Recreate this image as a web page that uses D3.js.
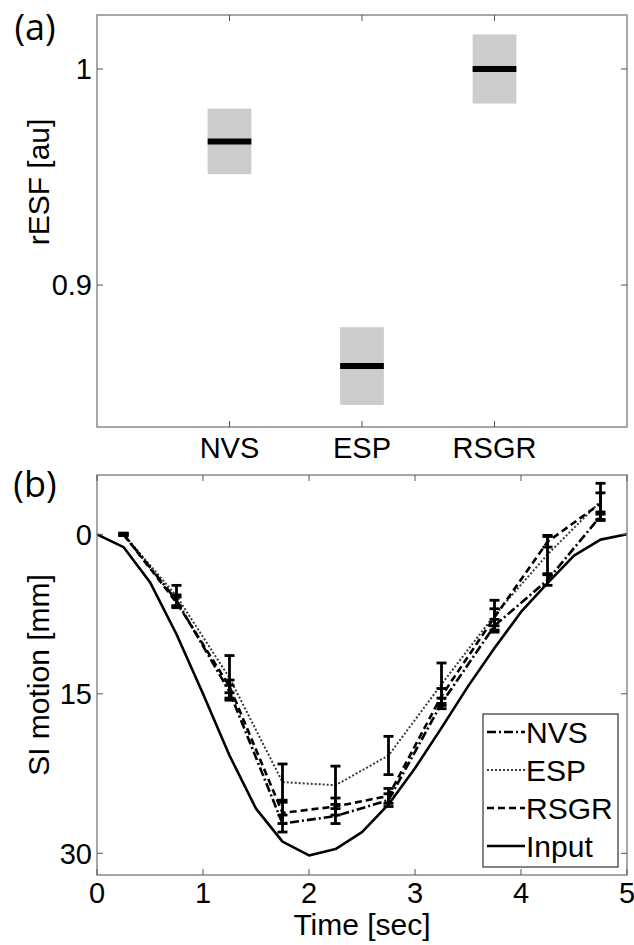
<!DOCTYPE html>
<html>
<head>
<meta charset="utf-8">
<script src="https://cdn.jsdelivr.net/npm/d3@7"></script>
<style>
  html, body { margin: 0; padding: 0; background: #fff; }
  svg { display: block; }
  text { font-family: "Liberation Sans", Arimo, Arial, sans-serif; fill: #000; }
  .panel-tag { font-family: "Open Sans", "Noto Sans", sans-serif; }
</style>
</head>
<body>
<svg id="fig" width="634" height="945"></svg>
<script>
// ---- Panel (a): relative edge spread function per method ----
const methods = ["NVS", "ESP", "RSGR"];
const resfMean = [0.9665, 0.8625, 1.0];
const resfSpread = [0.0152, 0.0180, 0.0160];
const resfTicks = [0.9, 1];
const resfTickLabels = ["0.9", "1"];

// ---- Panel (b): superior-inferior motion over one breathing cycle ----
const inputTime = [0, 0.25, 0.5, 0.75, 1.0, 1.25, 1.5, 1.75, 2.0, 2.25, 2.5,
                   2.75, 3.0, 3.25, 3.5, 3.75, 4.0, 4.25, 4.5, 4.75, 5.0];
const inputMotion = [0, 1.2, 4.5, 9.4, 15.0, 20.8, 25.8, 28.9, 30.2, 29.6, 28.0,
                     25.4, 22.0, 18.2, 14.3, 10.7, 7.3, 4.6, 2.0, 0.5, 0];

const sampleTime = [0.25, 0.75, 1.25, 1.75, 2.25, 2.75, 3.25, 3.75, 4.25, 4.75];
const nvsMotion  = [0, 6.2, 14.8, 27.2, 26.5, 25.0, 15.9, 8.6, 4.3, -1.7];
const nvsErr     = [0.1, 0.5, 0.6, 0.8, 0.7, 0.6, 0.5, 0.6, 0.5, 0.4];
const espMotion  = [0, 5.8, 13.5, 23.3, 23.6, 20.8, 14.1, 7.6, 1.9, -3.1];
const espErr     = [0.1, 1.0, 2.1, 1.7, 1.8, 1.8, 2.0, 1.4, 1.8, 1.7];
const rsgrMotion = [0, 6.4, 14.3, 26.2, 25.6, 24.6, 15.2, 7.8, 0.7, -2.9];
const rsgrErr    = [0.1, 0.5, 0.6, 1.0, 0.8, 0.7, 0.7, 0.8, 0.5, 1.0];

const timeTicks = [0, 1, 2, 3, 4, 5];
const motionTicks = [0, 15, 30];
const legendLabels = ["NVS", "ESP", "RSGR", "Input"];

const svg = d3.select("#fig");
const frameColor = "#8a8a8a";
const tickLen = 6;
const tickFont = 29;
const labelFont = 30;

// Draws a boxed frame with inward ticks on all four sides.
function frame(g, x, y, xTicks, yTicks) {
  const [x0, x1] = x.range();
  const [y0, y1] = [d3.max(y.range()), d3.min(y.range())];
  g.append("rect")
    .attr("x", x0).attr("y", y1)
    .attr("width", x1 - x0).attr("height", y0 - y1)
    .attr("fill", "none").attr("stroke", frameColor).attr("stroke-width", 1.5);
  const tg = g.append("g").attr("stroke", "#555").attr("stroke-width", 1);
  xTicks.forEach(t => {
    tg.append("line").attr("x1", x(t)).attr("x2", x(t)).attr("y1", y0).attr("y2", y0 - tickLen);
    tg.append("line").attr("x1", x(t)).attr("x2", x(t)).attr("y1", y1).attr("y2", y1 + tickLen);
  });
  yTicks.forEach(t => {
    tg.append("line").attr("x1", x0).attr("x2", x0 + tickLen).attr("y1", y(t)).attr("y2", y(t));
    tg.append("line").attr("x1", x1).attr("x2", x1 - tickLen).attr("y1", y(t)).attr("y2", y(t));
  });
}

// ================= Panel (a) =================
{
  const g = svg.append("g");
  const x = d3.scalePoint().domain(methods).range([97, 627]).padding(1);
  const y = d3.scaleLinear().domain([0.8343, 1.025]).range([427, 15]);
  const boxW = x.step() * 0.33;

  methods.forEach((m, i) => {
    g.append("rect")
      .attr("x", x(m) - boxW / 2)
      .attr("y", y(resfMean[i] + resfSpread[i]))
      .attr("width", boxW)
      .attr("height", y(resfMean[i] - resfSpread[i]) - y(resfMean[i] + resfSpread[i]))
      .attr("fill", "#cccccc");
    g.append("line")
      .attr("x1", x(m) - boxW / 2).attr("x2", x(m) + boxW / 2)
      .attr("y1", y(resfMean[i])).attr("y2", y(resfMean[i]))
      .attr("stroke", "#000").attr("stroke-width", 6);
  });

  const xl = d3.scaleLinear().domain([0, 4]).range([97, 627]);
  frame(g, xl, y, [1, 2, 3], resfTicks);

  resfTicks.forEach((t, i) => {
    g.append("text").attr("x", 92).attr("y", y(t)).attr("dy", "0.36em")
      .attr("text-anchor", "end").attr("font-size", tickFont).text(resfTickLabels[i]);
  });
  methods.forEach(m => {
    g.append("text").attr("x", x(m)).attr("y", 448).attr("dy", "0.36em")
      .attr("text-anchor", "middle").attr("font-size", tickFont).text(m);
  });
  g.append("text")
    .attr("transform", "translate(38,182) rotate(-90)")
    .attr("dy", "0.36em").attr("text-anchor", "middle").attr("font-size", labelFont)
    .text("rESF [au]");
  g.append("text").attr("class", "panel-tag")
    .attr("x", 35).attr("y", 40)
    .attr("text-anchor", "middle").attr("font-size", 36).text("(a)");
}

// ================= Panel (b) =================
{
  const g = svg.append("g");
  const x = d3.scaleLinear().domain([0, 5]).range([97, 627]);
  const y = d3.scaleLinear().domain([-5.58, 32.04]).range([475, 875]);

  const styles = {
    NVS:   { dash: "9,3,2,3", width: 2.6, color: "#000" },
    ESP:   { dash: "2,2",     width: 2.0, color: "#3a3a3a" },
    RSGR:  { dash: "7,4",     width: 2.6, color: "#000" },
    Input: { dash: null,      width: 2.6, color: "#000" }
  };

  const line = d3.line().x(d => x(d[0])).y(d => y(d[1]));

  const inputPts = inputTime.map((t, i) => [t, inputMotion[i]]);
  g.append("path").datum(inputPts).attr("d", line)
    .attr("fill", "none").attr("stroke", styles.Input.color)
    .attr("stroke-width", styles.Input.width).attr("stroke-linejoin", "round");

  const series = [
    { name: "ESP",  v: espMotion,  e: espErr },
    { name: "RSGR", v: rsgrMotion, e: rsgrErr },
    { name: "NVS",  v: nvsMotion,  e: nvsErr }
  ];

  series.forEach(s => {
    const st = styles[s.name];
    const pts = sampleTime.map((t, i) => [t, s.v[i]]);
    g.append("path").datum(pts).attr("d", line)
      .attr("fill", "none").attr("stroke", st.color)
      .attr("stroke-width", st.width).attr("stroke-dasharray", st.dash);
  });

  // error bars
  const capHalf = 5;
  series.forEach(s => {
    const eb = g.append("g").attr("stroke", "#000").attr("stroke-width", 2.8);
    sampleTime.forEach((t, i) => {
      const cx = x(t), lo = y(s.v[i] - s.e[i]), hi = y(s.v[i] + s.e[i]);
      eb.append("line").attr("x1", cx).attr("x2", cx).attr("y1", lo).attr("y2", hi);
      eb.append("line").attr("x1", cx - capHalf).attr("x2", cx + capHalf).attr("y1", lo).attr("y2", lo);
      eb.append("line").attr("x1", cx - capHalf).attr("x2", cx + capHalf).attr("y1", hi).attr("y2", hi);
    });
  });

  frame(g, x, y, timeTicks, motionTicks);

  motionTicks.forEach(t => {
    g.append("text").attr("x", 92).attr("y", y(t)).attr("dy", "0.36em")
      .attr("text-anchor", "end").attr("font-size", tickFont).text(t);
  });
  timeTicks.forEach(t => {
    g.append("text").attr("x", x(t)).attr("y", 893).attr("dy", "0.36em")
      .attr("text-anchor", "middle").attr("font-size", tickFont).text(t);
  });
  g.append("text").attr("x", 362).attr("y", 924).attr("dy", "0.36em")
    .attr("text-anchor", "middle").attr("font-size", labelFont).text("Time [sec]");
  g.append("text")
    .attr("transform", "translate(38,675) rotate(-90)")
    .attr("dy", "0.36em").attr("text-anchor", "middle").attr("font-size", labelFont)
    .text("SI motion [mm]");
  g.append("text").attr("class", "panel-tag")
    .attr("x", 35).attr("y", 497)
    .attr("text-anchor", "middle").attr("font-size", 36).text("(b)");

  // legend
  const lg = g.append("g");
  lg.append("rect").attr("x", 483).attr("y", 714).attr("width", 135).attr("height", 153)
    .attr("fill", "#fff").attr("stroke", "#333").attr("stroke-width", 1.2);
  legendLabels.forEach((name, i) => {
    const st = styles[name];
    const cy = 732 + i * 38;
    lg.append("line").attr("x1", 487).attr("x2", 525).attr("y1", cy).attr("y2", cy)
      .attr("stroke", st.color).attr("stroke-width", st.width)
      .attr("stroke-dasharray", st.dash);
    lg.append("text").attr("x", 526).attr("y", cy).attr("dy", "0.36em")
      .attr("font-size", labelFont).text(name);
  });
}
</script>
</body>
</html>
